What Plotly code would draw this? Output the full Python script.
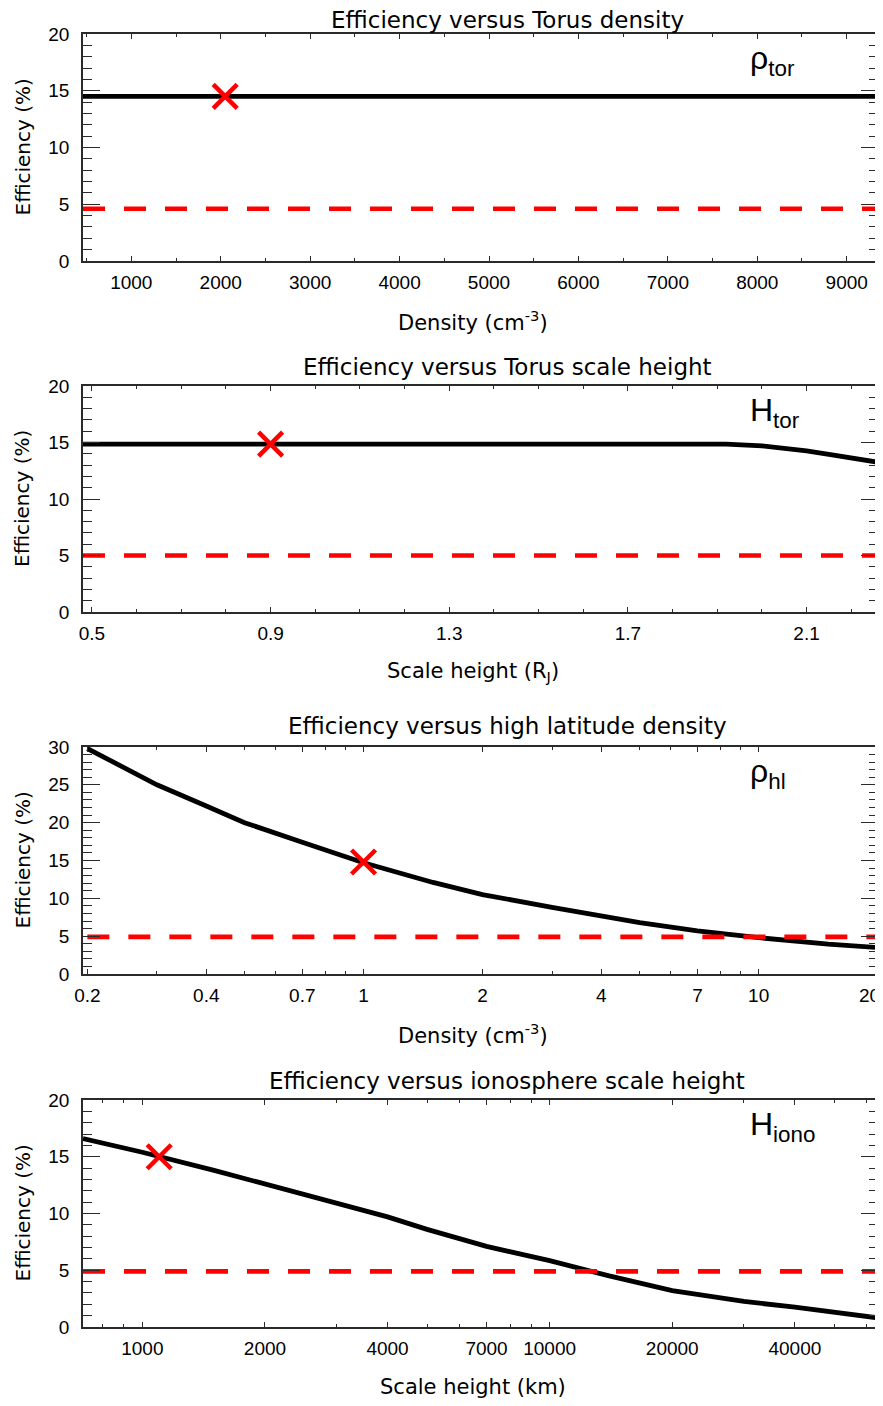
import math
import plotly.graph_objects as go

# ---------------- data ----------------
# Panel 1: efficiency vs torus density
torus_density = [460, 2000, 4000, 6000, 8000, 9350]
torus_density_eff = [14.5, 14.5, 14.5, 14.5, 14.5, 14.5]
torus_density_ref_x = [2050]
torus_density_ref_y = [14.5]
torus_density_threshold = [4.6, 4.6]

# Panel 2: efficiency vs torus scale height (R_J)
torus_height = [0.48, 0.9, 1.3, 1.7, 1.92, 2.0, 2.05, 2.1, 2.15, 2.2, 2.26]
torus_height_eff = [14.85, 14.85, 14.85, 14.85, 14.85, 14.7, 14.5, 14.25, 13.95, 13.65, 13.25]
torus_height_ref_x = [0.9]
torus_height_ref_y = [14.85]
torus_height_threshold = [5.0, 5.0]

# Panel 3: efficiency vs high latitude density (cm^-3)
hl_density = [0.2, 0.3, 0.4, 0.5, 0.7, 1.0, 1.5, 2.0, 3.0, 4.0, 5.0, 7.0, 10.0, 15.0, 20.0]
hl_density_eff = [29.8, 25.0, 22.2, 20.0, 17.4, 14.7, 12.1, 10.5, 8.8, 7.6, 6.8, 5.7, 4.8, 3.95, 3.5]
hl_density_ref_x = [1.0]
hl_density_ref_y = [14.8]
hl_density_threshold = [4.9, 4.9]

# Panel 4: efficiency vs ionosphere scale height (km)
iono_height = [715, 1000, 1500, 2000, 3000, 4000, 5000, 7000, 10000, 14000, 20000, 30000, 40000, 50000, 64000]
iono_height_eff = [16.6, 15.4, 13.8, 12.6, 10.9, 9.7, 8.6, 7.1, 5.85, 4.5, 3.2, 2.25, 1.75, 1.3, 0.8]
iono_height_ref_x = [1100]
iono_height_ref_y = [15.0]
iono_height_threshold = [4.9, 4.9]

# tick labels
p1_xticks = [1000, 2000, 3000, 4000, 5000, 6000, 7000, 8000, 9000]
p2_xticks = [0.5, 0.9, 1.3, 1.7, 2.1]
p3_xticks = [0.2, 0.4, 0.7, 1, 2, 4, 7, 10, 20]
p3_xticktext = ["0.2", "0.4", "0.7", "1", "2", "4", "7", "10", ""]
p3_edge_label = "20"   # last tick label of panel 3, kept inside the page
p3_xminor = [0.3, 0.5, 0.6, 0.8, 0.9, 3, 5, 6, 8, 9]
p4_xticks = [1000, 2000, 4000, 7000, 10000, 20000, 40000]
p4_xticktext = ["1000", "2000", "4000", "7000", "10000", "20000", "40000"]
p4_xminor = [800, 900, 3000, 5000, 6000, 8000, 9000, 30000, 50000, 60000]

titles = ["Efficiency versus Torus density",
          "Efficiency versus Torus scale height",
          "Efficiency versus high latitude density",
          "Efficiency versus ionosphere scale height"]
xtitles = ["Density (cm<sup>-3</sup>)",
           "Scale height (R<sub>J</sub>)",
           "Density (cm<sup>-3</sup>)",
           "Scale height (km)"]
labels = ["ρ<sub>tor</sub>", "H<sub>tor</sub>", "ρ<sub>hl</sub>", "H<sub>iono</sub>"]

# ---------------- layout geometry ----------------
OFF = 8  # page body margin offset
W, H = 883 - OFF, 1406 - OFF
ML, MR, MT, MB = 30, 2, 20, 20
PW, PH = W - ML - MR, H - MT - MB
X0, X1 = 83, 878
boxes = [(34, 261), (386, 612), (747, 974), (1100, 1327)]
title_y = [20, 367, 726, 1081]
FONT = "Liberation Sans, Arial, sans-serif"
TFONT = "DejaVu Sans, Liberation Sans, sans-serif"
AX = "#2a2a2a"
RED = "#ff0000"


def dx(px):
    return (px - OFF - ML) / PW


def dy(px):
    return 1 - (px - OFF - MT) / PH


fig = go.Figure()

series = [
    (torus_density, torus_density_eff, torus_density_ref_x, torus_density_ref_y, torus_density_threshold),
    (torus_height, torus_height_eff, torus_height_ref_x, torus_height_ref_y, torus_height_threshold),
    (hl_density, hl_density_eff, hl_density_ref_x, hl_density_ref_y, hl_density_threshold),
    (iono_height, iono_height_eff, iono_height_ref_x, iono_height_ref_y, iono_height_threshold),
]

for i, (xs, ys, rx, ry, thr) in enumerate(series):
    n = i + 1
    xa = "x" if n == 1 else f"x{n}"
    ya = "y" if n == 1 else f"y{n}"
    fig.add_trace(go.Scatter(x=xs, y=ys, mode="lines",
                             line=dict(color="black", width=4.8),
                             xaxis=xa, yaxis=ya, showlegend=False))
    fig.add_trace(go.Scatter(x=[xs[0], xs[-1]], y=thr, mode="lines",
                             line=dict(color=RED, width=4.6, dash="22px,19px"),
                             xaxis=xa, yaxis=ya, showlegend=False, hoverinfo="skip"))
    fig.add_trace(go.Scatter(x=rx, y=ry, mode="markers",
                             marker=dict(symbol="x-thin", size=24, line=dict(color=RED, width=4.5)),
                             xaxis=xa, yaxis=ya, showlegend=False))

common_axis = dict(showline=True, linecolor=AX, linewidth=1.5, mirror="ticks",
                   ticks="inside", tickcolor=AX, tickwidth=1.3, showgrid=False,
                   zeroline=False, automargin=False, ticklabeloverflow="allow",
                   tickfont=dict(family=FONT, size=19, color="black"))

layout = dict(width=W, height=H, paper_bgcolor="white", plot_bgcolor="white",
              margin=dict(l=ML, r=MR, t=MT, b=MB), showlegend=False,
              font=dict(family=FONT, color="black"))

x_specs = [
    dict(type="linear", range=[460, 9350], tickmode="array", tickvals=p1_xticks,
         minor=dict(ticks="inside", dtick=500, tick0=0, ticklen=3, tickcolor=AX, tickwidth=1.2)),
    dict(type="linear", range=[0.48, 2.26], tickmode="array", tickvals=p2_xticks,
         minor=dict(ticks="inside", dtick=0.1, tick0=0.5, ticklen=3, tickcolor=AX, tickwidth=1.2)),
    dict(type="log", range=[math.log10(0.195), math.log10(20.05)], tickmode="array",
         tickvals=p3_xticks, ticktext=p3_xticktext,
         minor=dict(ticks="inside", tickmode="array", tickvals=p3_xminor, ticklen=3, tickcolor=AX, tickwidth=1.2)),
    dict(type="log", range=[math.log10(715), math.log10(64000)], tickmode="array",
         tickvals=p4_xticks, ticktext=p4_xticktext,
         minor=dict(ticks="inside", tickmode="array", tickvals=p4_xminor, ticklen=3, tickcolor=AX, tickwidth=1.2)),
]
y_specs = [
    dict(range=[0, 20], dtick=5, tick0=0),
    dict(range=[0, 20], dtick=5, tick0=0),
    dict(range=[0, 30], dtick=5, tick0=0),
    dict(range=[0, 20], dtick=5, tick0=0),
]

annotations = []
for i in range(4):
    n = i + 1
    top, bot = boxes[i]
    xk = "xaxis" if n == 1 else f"xaxis{n}"
    yk = "yaxis" if n == 1 else f"yaxis{n}"
    xa = dict(common_axis)
    xa.update(x_specs[i])
    xa.update(domain=[dx(X0), dx(X1)], anchor="y" if n == 1 else f"y{n}",
              ticklen=5, ticklabelstandoff=3)
    ya = dict(common_axis)
    ya.update(y_specs[i])
    ya.update(domain=[dy(bot), dy(top)], anchor="x" if n == 1 else f"x{n}",
              ticklen=17, ticklabelstandoff=8,
              minor=dict(ticks="inside", dtick=1, ticklen=9, tickcolor=AX, tickwidth=1.2))
    layout[xk] = xa
    layout[yk] = ya

    annotations.append(dict(text=titles[i], xref="paper", yref="paper", x=dx(507), y=dy(title_y[i]),
                            showarrow=False, xanchor="center", yanchor="middle",
                            font=dict(family=TFONT, size=23, color="black")))
    annotations.append(dict(text=xtitles[i], xref="paper", yref="paper", x=dx(473), y=dy(bot + 60),
                            showarrow=False, xanchor="center", yanchor="middle",
                            font=dict(family=TFONT, size=21, color="black")))
    annotations.append(dict(text="Efficiency (%)", xref="paper", yref="paper", x=dx(22),
                            y=dy((top + bot) / 2), showarrow=False, textangle=-90,
                            xanchor="center", yanchor="middle",
                            font=dict(family=TFONT, size=20, color="black")))
    annotations.append(dict(text=labels[i], xref="paper", yref="paper", x=dx(748),
                            y=dy(top + 26), showarrow=False, xanchor="left", yanchor="middle",
                            font=dict(family=FONT, size=32, color="black")))

# last tick label of panel 3 (right edge), positioned like the other tick labels
annotations.append(dict(text=p3_edge_label, xref="paper", yref="paper", x=dx(881),
                        y=dy(boxes[2][1] + 21), showarrow=False, xanchor="right",
                        yanchor="middle", borderpad=0,
                        font=dict(family=FONT, size=19, color="black")))

layout["annotations"] = annotations
fig.update_layout(**layout)
fig.write_html("out.html")
